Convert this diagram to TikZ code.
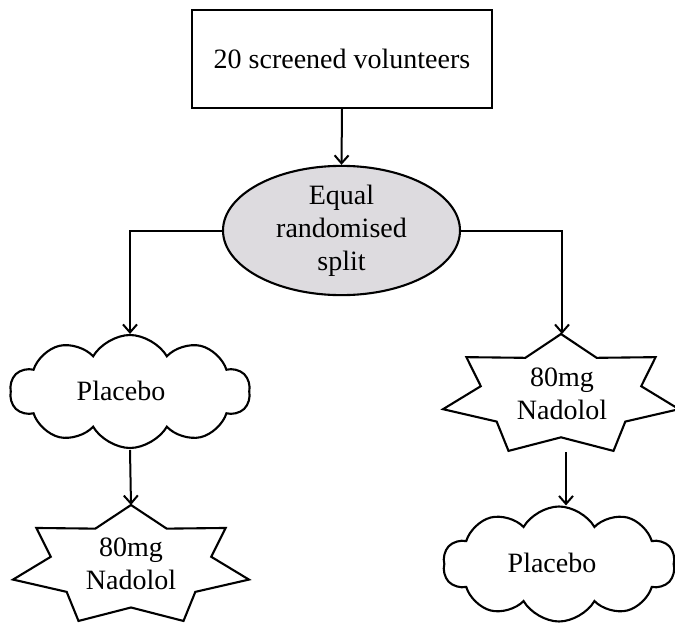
\documentclass[tikz,border=0pt]{standalone}
\usepackage{fontspec}
\setmainfont{Liberation Serif}
\usetikzlibrary{shapes.geometric,shapes.symbols,arrows.meta}
\definecolor{ellgray}{RGB}{221,219,223}
\begin{document}
\begin{tikzpicture}[x=1pt,y=1pt,
  every node/.style={font=\fontsize{28}{33}\selectfont},
  outline/.style={draw, line width=2.1pt},
  arr/.style={line width=2pt, -{Straight Barb[length=8pt,width=14pt,line width=2pt]}},
  puff/.style={cloud, outline, cloud puffs=10, cloud puff arc=120, aspect=2.1, inner sep=0pt},
  txt/.style={align=center, inner sep=0pt}
]
\useasboundingbox (0,0) rectangle (675,-624);
% top box
\node[outline, minimum width=300pt, minimum height=98pt, inner sep=0pt] (box) at (342,-59) {20 screened volunteers};
% ellipse
\node[ellipse, outline, fill=ellgray, minimum width=237pt, minimum height=117pt, inner sep=0pt, txt] (split) at (341.5,-230.5) {Equal\\randomised\\split};
% left cloud
\node[puff, minimum width=240pt, minimum height=113pt] (lcloud) at (130,-391.5) {};
\node[txt] (lcloudtxt) at (121,-391) {Placebo};
% right cloud
\node[puff, minimum width=232pt, minimum height=115pt] (rcloud) at (559,-564) {};
\node[txt] (rcloudtxt) at (552,-563) {Placebo};
% stars
\coordinate (lstarc) at (131,-566);
\coordinate (rstarc) at (561,-395.5);
\foreach \c/\rx/\ry in {lstarc/121/61, rstarc/121/61.5}{
  \draw[line width=2.1pt, line join=miter] (\c) +(90:\rx pt and \ry pt)
    \foreach \k [evaluate=\k as \ang using {90+\k*360/14},
                 evaluate=\k as \fx using {\rx*(1-0.32*mod(\k,2))},
                 evaluate=\k as \fy using {\ry*(1-0.32*mod(\k,2))}] in {1,...,13}
      { -- +(\ang:\fx pt and \fy pt) } -- cycle;
}
\node[txt] (lstar) at (131,-564) {80mg\\Nadolol};
\node[txt] (rstar) at (562,-394) {80mg\\Nadolol};
\coordinate (lstartop) at (131,-505);
\coordinate (rstartop) at (562,-334);
\coordinate (rstarbot) at (566,-452);
\coordinate (lcloudbot) at (130,-450);
% connectors
\draw[arr] (box.south) -- (split.north);
\draw[arr] (split.west) -| (lcloud.north);
\draw[arr] (split.east) -| (rstartop);
\draw[arr] (lcloudbot) -- (lstartop);
\draw[arr] (rstarbot) -- (rstarbot |- rcloud.north);
\end{tikzpicture}
\end{document}
